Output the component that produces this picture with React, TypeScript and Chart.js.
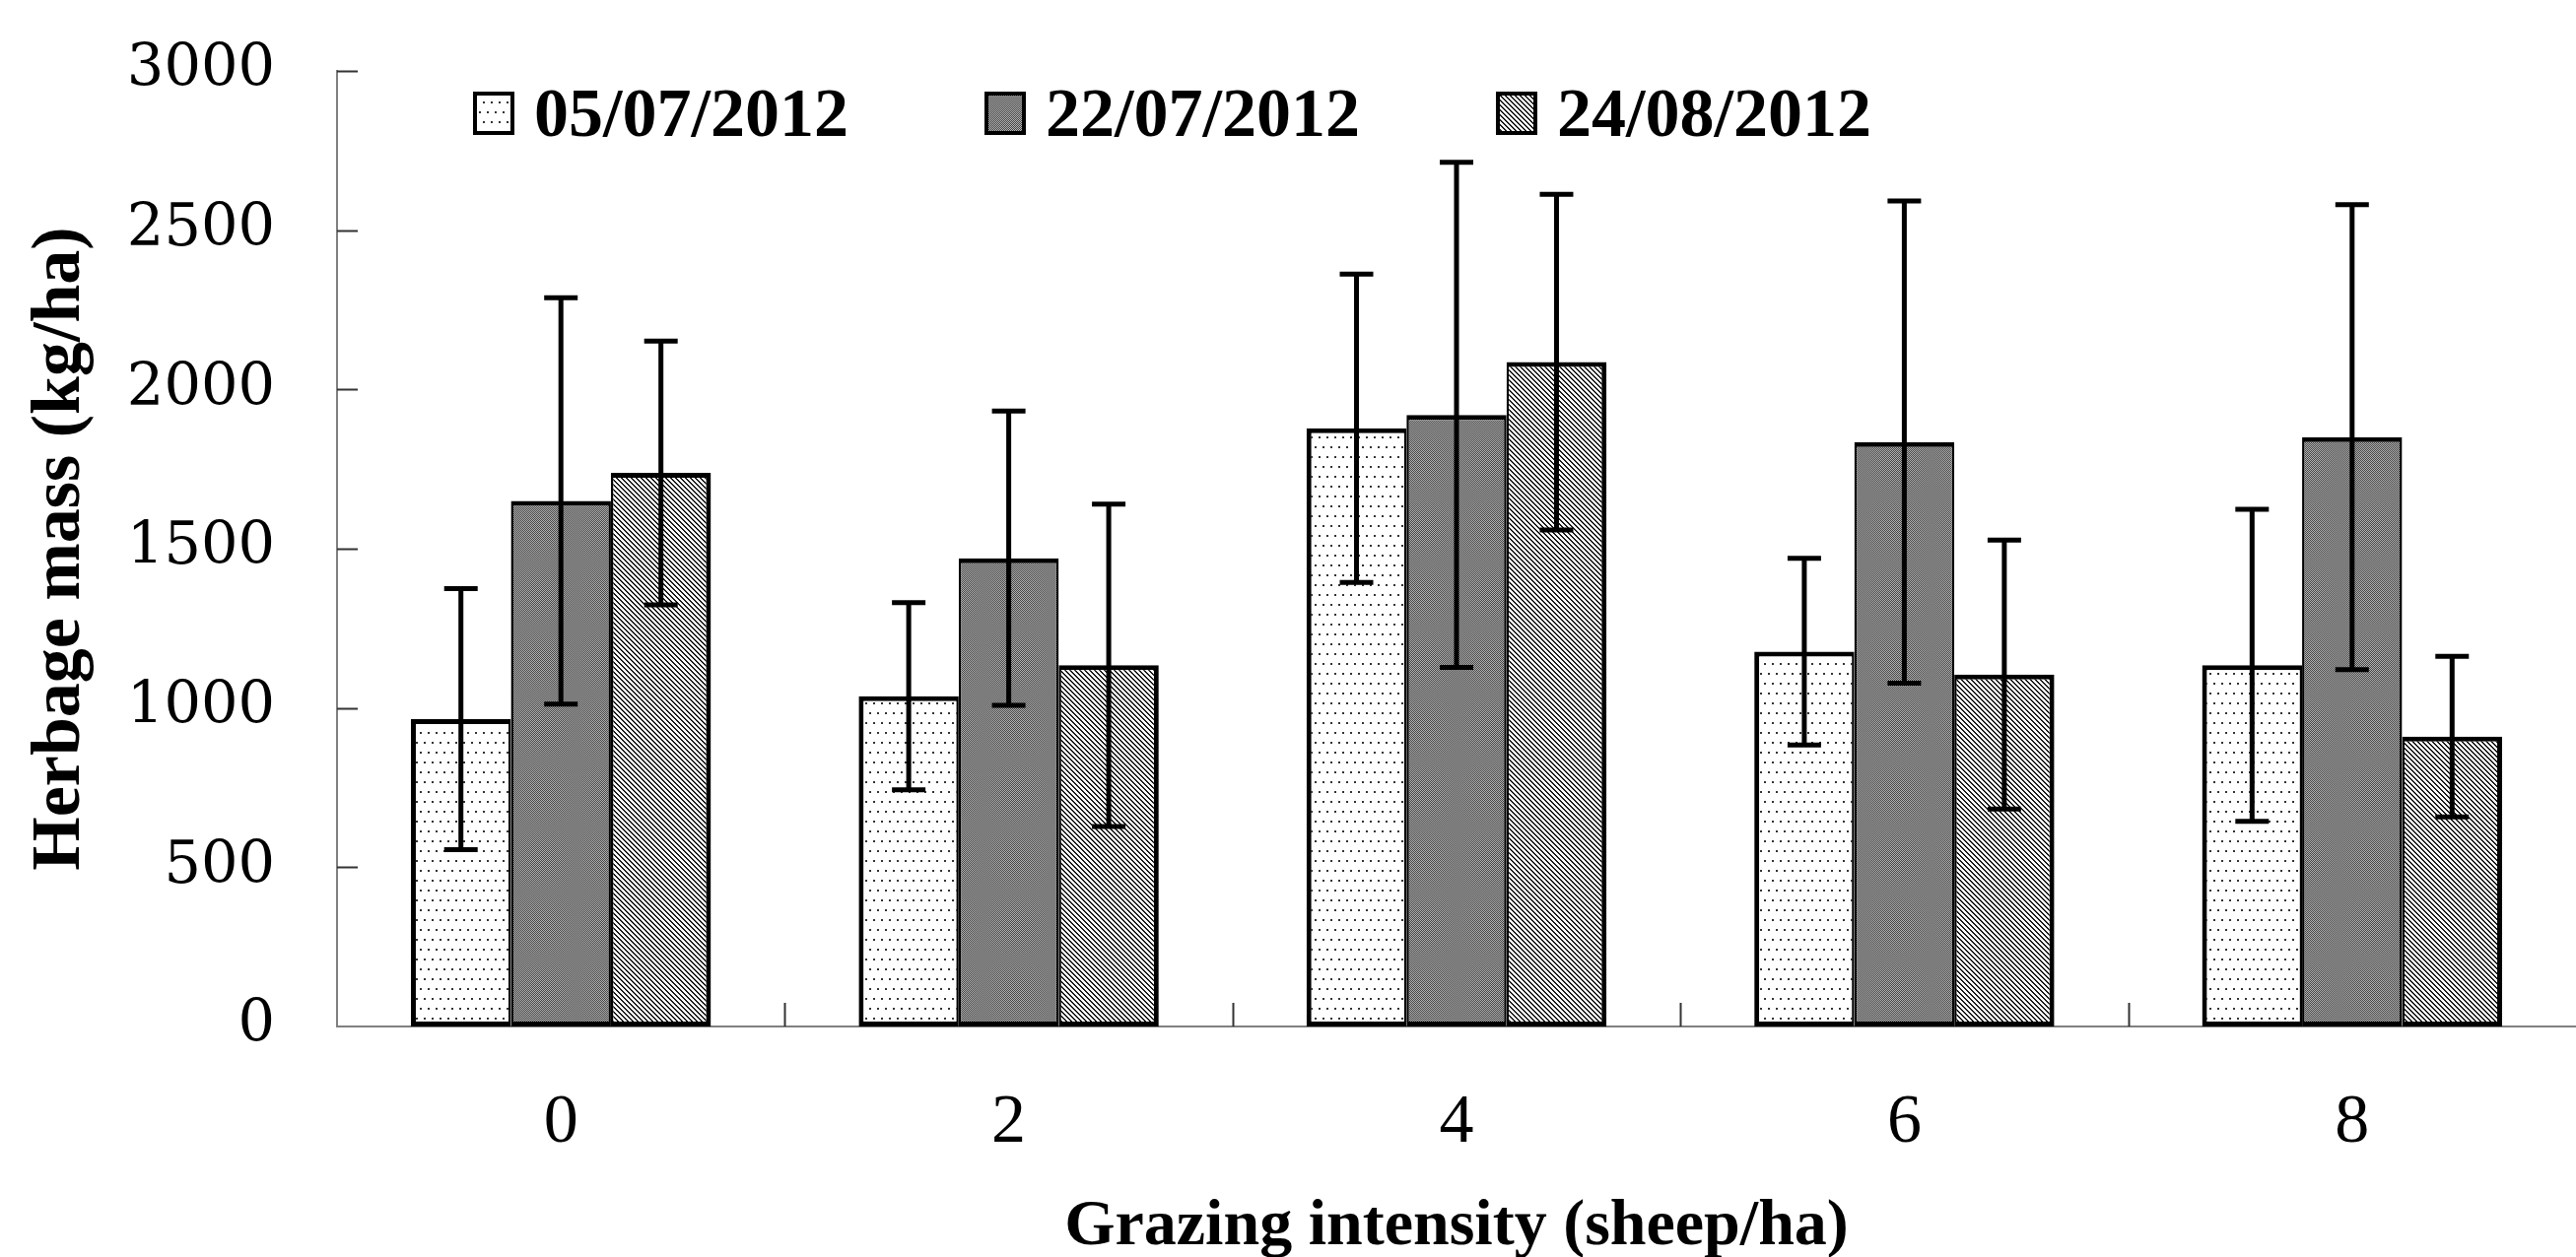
import React, { useEffect, useRef } from 'react';
import { Chart, registerables } from 'chart.js';

Chart.register(...registerables);

// ---- Data ----
const categories = ['0', '2', '4', '6', '8'];
const seriesLabels = ['05/07/2012', '22/07/2012', '24/08/2012'];
const mass0507 = [965, 1037, 1878, 1177, 1134];
const sd0507 = [410, 294, 484, 293, 490];
const mass2207 = [1650, 1470, 1920, 1835, 1850];
const sd2207 = [638, 462, 793, 757, 730];
const mass2408 = [1738, 1134, 2086, 1105, 910];
const sd2408 = [414, 506, 527, 422, 252];
const yMin = 0;
const yMax = 3000;
const yStep = 500;
const yTitle = 'Herbage mass (kg/ha)';
const xTitle = 'Grazing intensity (sheep/ha)';

function makePattern(kind: string): CanvasPattern | string {
  const c = document.createElement('canvas');
  if (kind === 'dots') {
    c.width = 16; c.height = 20;
    const g = c.getContext('2d')!;
    g.fillStyle = '#ffffff'; g.fillRect(0, 0, 16, 20);
    g.fillStyle = '#333333';
    [[2, 3], [10, 3], [6, 13], [14, 13]].forEach(([x, y]) => g.fillRect(x, y, 2, 2));
    return g.createPattern(c, 'repeat')!;
  }
  if (kind === 'gray') {
    c.width = 2; c.height = 2;
    const g = c.getContext('2d')!;
    g.fillStyle = '#b4b4b4'; g.fillRect(0, 0, 2, 2);
    g.fillStyle = '#444444'; g.fillRect(0, 0, 1, 1); g.fillRect(1, 1, 1, 1);
    return g.createPattern(c, 'repeat')!;
  }
  // diagonal "\" lines
  const n = 5;
  c.width = n; c.height = n;
  const g = c.getContext('2d')!;
  g.fillStyle = '#ffffff'; g.fillRect(0, 0, n, n);
  g.fillStyle = '#1a1a1a';
  for (let yy = 0; yy < n; yy++) {
    for (let xx = 0; xx < n; xx++) {
      if (((xx - yy) % n + n) % n < 2) g.fillRect(xx, yy, 1, 1);
    }
  }
  return g.createPattern(c, 'repeat')!;
}

const errorBarPlugin = {
  id: 'errorBars',
  afterDatasetsDraw(chart: any) {
    const { ctx, scales } = chart;
    const y = scales.y;
    chart.data.datasets.forEach((ds: any, di: number) => {
      const meta = chart.getDatasetMeta(di);
      const sds: number[] = ds.sd;
      meta.data.forEach((bar: any, i: number) => {
        const v = ds.data[i];
        const sd = sds[i];
        const yt = y.getPixelForValue(v + sd);
        const yb = y.getPixelForValue(v - sd);
        const x = bar.x;
        ctx.save();
        ctx.strokeStyle = '#000';
        ctx.lineWidth = 5;
        ctx.lineCap = 'butt';
        ctx.beginPath();
        ctx.moveTo(x, yt); ctx.lineTo(x, yb);
        ctx.moveTo(x - 17, yt); ctx.lineTo(x + 17, yt);
        ctx.moveTo(x - 17, yb); ctx.lineTo(x + 17, yb);
        ctx.stroke();
        ctx.restore();
      });
    });
  },
};

const axisTicksPlugin = {
  id: 'innerTicks',
  afterDraw(chart: any) {
    const { ctx, chartArea, scales } = chart;
    const x = scales.x;
    const y = scales.y;
    ctx.save();
    ctx.strokeStyle = '#333';
    ctx.lineWidth = 2;
    ctx.beginPath();
    y.ticks.forEach((t: any, i: number) => {
      if (t.value === yMin) return;
      const py = Math.round(y.getPixelForTick(i)) + 0.5;
      ctx.moveTo(chartArea.left, py);
      ctx.lineTo(chartArea.left + 21, py);
    });
    for (let i = 1; i < categories.length; i++) {
      const px = Math.round((x.getPixelForValue(i - 1) + x.getPixelForValue(i)) / 2) + 0.5;
      ctx.moveTo(px, chartArea.bottom);
      ctx.lineTo(px, chartArea.bottom - 24);
    }
    ctx.stroke();
    ctx.restore();
  },
};

const manualLegendPlugin = {
  id: 'manualLegend',
  afterDraw(chart: any) {
    const { ctx, chartArea } = chart;
    chart.data.datasets.forEach((ds: any, i: number) => {
      const bx = chartArea.left + 138 + i * 519;
      const by = chartArea.top + 21;
      ctx.save();
      ctx.fillStyle = ds.backgroundColor;
      ctx.fillRect(bx, by, 42, 44);
      ctx.strokeStyle = '#000';
      ctx.lineWidth = 4;
      ctx.strokeRect(bx + 2, by + 2, 38, 40);
      ctx.fillStyle = '#000';
      ctx.font = 'bold 70px "Liberation Serif"';
      ctx.textBaseline = 'alphabetic';
      ctx.textAlign = 'left';
      ctx.fillText(ds.label, bx + 62, chartArea.top + 66);
      ctx.restore();
    });
  },
};

export default function App() {
  const ref = useRef<HTMLCanvasElement | null>(null);

  useEffect(() => {
    const canvas = ref.current;
    if (!canvas) return;
    const fills = [makePattern('dots'), makePattern('gray'), makePattern('diag')];
    const values = [mass0507, mass2207, mass2408];
    const sds = [sd0507, sd2207, sd2408];
    const borders = [
      { top: 5, left: 5, right: 2.5, bottom: 5 },
      { top: 5, left: 2.5, right: 2.5, bottom: 5 },
      { top: 5, left: 2.5, right: 5, bottom: 5 },
    ];
    const chart = new Chart(canvas, {
      type: 'bar',
      data: {
        labels: categories,
        datasets: seriesLabels.map((label, i) => ({
          label,
          data: values[i],
          sd: sds[i],
          backgroundColor: fills[i] as any,
          borderColor: '#000',
          borderWidth: borders[i],
          borderSkipped: false,
          barPercentage: 1,
          categoryPercentage: 0.67,
        })) as any,
      },
      options: {
        responsive: false,
        animation: false,
        devicePixelRatio: 1,
        layout: { padding: { top: 72, left: 0, right: 0, bottom: 0 } },
        plugins: {
          legend: { display: false },
          tooltip: { enabled: false },
        },
        scales: {
          x: {
            grid: { display: false, drawTicks: false },
            border: { display: true, color: '#808080', width: 2 },
            ticks: {
              color: '#000',
              padding: 57,
              font: { family: '"Liberation Serif"', size: 70 },
            },
            title: {
              display: true,
              text: xTitle,
              color: '#000',
              font: { family: '"Liberation Serif"', size: 66, weight: 'bold' },
              padding: { top: 0, bottom: -10 },
            },
            afterFit: (s: any) => { s.height = 234; s.paddingLeft = 0; s.paddingRight = 0; },
          },
          y: {
            min: yMin,
            max: yMax,
            grid: { display: false, drawTicks: false },
            border: { display: true, color: '#808080', width: 2 },
            ticks: {
              stepSize: yStep,
              color: '#000',
              padding: 63,
              font: { family: '"DejaVu Serif"', size: 59 },
              callback: (v: any) => String(v),
            },
            title: {
              display: true,
              text: yTitle,
              color: '#000',
              font: { family: '"Liberation Serif"', size: 70, weight: 'bold' },
              padding: { top: 20, bottom: 0 },
            },
            afterFit: (s: any) => { s.width = 342; s.paddingTop = 0; s.paddingBottom = 0; },
          },
        },
      } as any,
      plugins: [errorBarPlugin, axisTicksPlugin, manualLegendPlugin],
    });
    return () => chart.destroy();
  }, []);

  return (
    <div style={{ position: 'absolute', left: 0, top: 0, width: 2614, height: 1276, background: '#fff' }}>
      <canvas ref={ref} width={2614} height={1276} style={{ display: 'block', width: 2614, height: 1276 }} />
    </div>
  );
}
